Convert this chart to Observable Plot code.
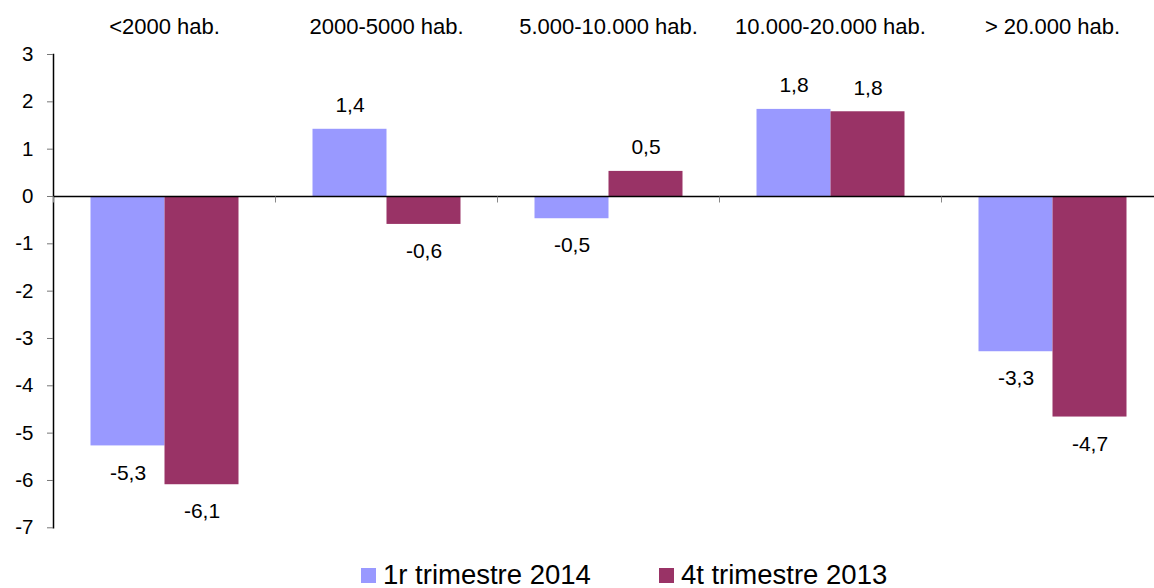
<!DOCTYPE html>
<html>
<head>
<meta charset="utf-8">
<script src="https://cdn.jsdelivr.net/npm/d3@7"></script>
<script src="https://cdn.jsdelivr.net/npm/@observablehq/plot@0.6"></script>
<style>
  html, body { margin: 0; padding: 0; background: #fff; overflow: hidden; }
  body { font-family: Arial, "Liberation Sans", sans-serif; }
  #chart { width: 1154px; overflow: hidden; }
  #chart svg { max-width: none !important; }
  #legend { margin-top: -1.5px; margin-left: 361px; }
  #legend .lg-swatches-wrap { display: flex !important; align-items: center !important; min-height: 33px !important; flex-wrap: nowrap !important; font-family: Arial, "Liberation Sans", sans-serif !important; font-size: 27.5px !important; color: #000 !important; }
  #legend .lg-swatch { margin-right: 68px !important; display: inline-flex !important; align-items: center !important; }
  #legend .lg-swatch > svg { margin-right: 7px !important; }
</style>
</head>
<body>
<div id="chart"></div>
<div id="legend"></div>
<script>
// ---- data ----
const categories = ["<2000 hab.", "2000-5000 hab.", "5.000-10.000 hab.", "10.000-20.000 hab.", "> 20.000 hab."];
const seriesNames = ["1r trimestre 2014", "4t trimestre 2013"];
const values2014 = [-5.27, 1.42, -0.47, 1.84, -3.28];
const values2013 = [-6.09, -0.59, 0.53, 1.79, -4.66];
const yTicks = [-7, -6, -5, -4, -3, -2, -1, 0, 1, 2, 3];
const seriesColors = ["#9999FF", "#993366"];

const data = categories.flatMap((c, i) => [
  {cat: c, series: seriesNames[0], value: values2014[i]},
  {cat: c, series: seriesNames[1], value: values2013[i]}
]);
const fmt = v => v.toFixed(1).replace(".", ",");
// short downward tick drawn at facet (category) boundaries
const tickDown = {draw(ctx, size) { const l = Math.sqrt(size / Math.PI); ctx.moveTo(0, 0); ctx.lineTo(0, l); }};
const font = "Arial, 'Liberation Sans', sans-serif";

const chart = Plot.plot({
  width: 1165,
  height: 560,
  marginLeft: 51.5,
  marginRight: 0,
  marginTop: 54,
  marginBottom: 32.7,
  facet: {marginTop: 0, marginBottom: 0, marginLeft: 0, marginRight: 0},
  style: {fontFamily: font, color: "black", background: "white"},
  fx: {domain: categories, padding: 0, label: null},
  x: {domain: seriesNames, paddingInner: 0, paddingOuter: 0.5, axis: null},
  y: {domain: [-7, 3], label: null},
  color: {domain: seriesNames, range: seriesColors},
  marks: [
    Plot.barY(data, {fx: "cat", x: "series", y: "value", fill: "series"}),
    Plot.ruleY([0], {stroke: "black", strokeWidth: 1.6}),
    Plot.frame({anchor: "left", facetAnchor: "left", stroke: "black", strokeWidth: 1.5}),
    Plot.dot(categories, {fx: d => d, y: () => 0, frameAnchor: "left", symbol: tickDown, r: 6, stroke: "#888", fill: "none", strokeWidth: 1}),
    Plot.text(data.filter(d => d.value >= 0), {fx: "cat", x: "series", y: "value", text: d => fmt(d.value), dy: -24, fontSize: 21, fill: "black"}),
    Plot.text(data.filter(d => d.value < 0), {fx: "cat", x: "series", y: "value", text: d => fmt(d.value), dy: 27, fontSize: 21, fill: "black"}),
    Plot.axisY({ticks: yTicks, tickFormat: d => String(d), tickSize: 6, tickPadding: 14, fontSize: 20.5, stroke: "#777", label: null}),
    Plot.axisFx({anchor: "top", tickSize: 0, tickPadding: 21, fontSize: 22, label: null})
  ]
});
document.getElementById("chart").appendChild(chart);

const legend = Plot.legend({
  color: {domain: seriesNames, range: seriesColors},
  legend: "swatches",
  swatchSize: 15,
  className: "lg"
});
document.getElementById("legend").appendChild(legend);
</script>
</body>
</html>
